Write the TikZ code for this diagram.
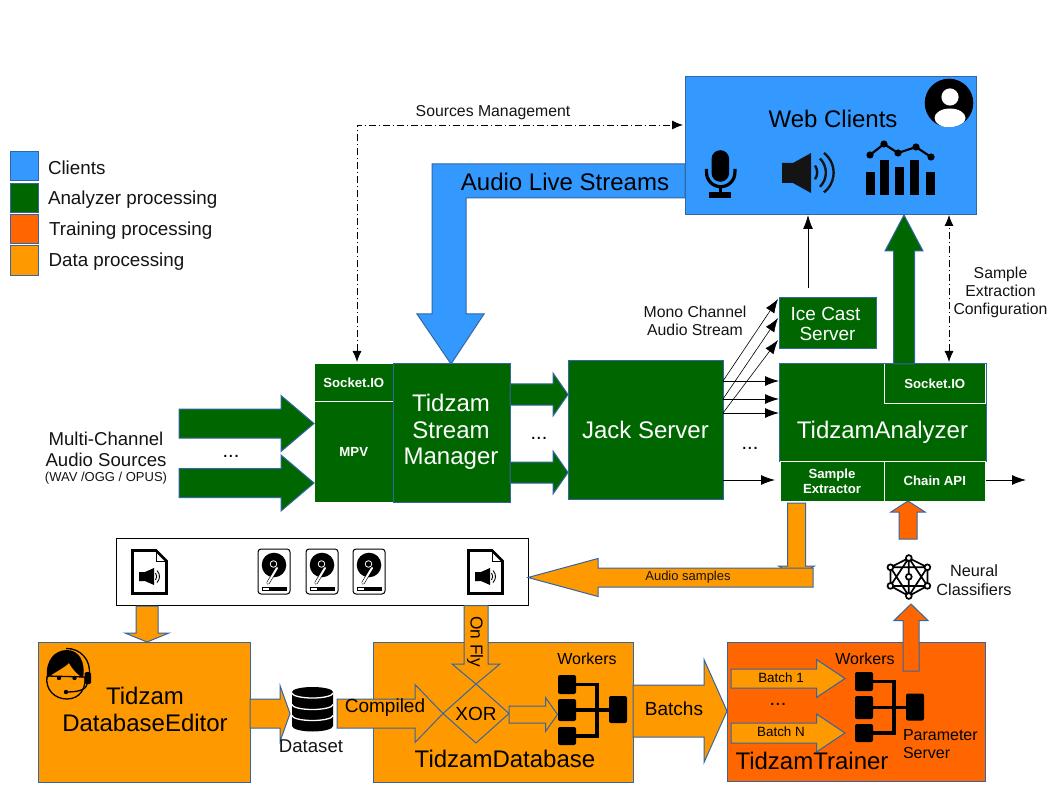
\documentclass[tikz,border=0pt]{standalone}
\usepackage{fontspec}
\setmainfont{Liberation Sans}
\usetikzlibrary{calc,arrows.meta}
\definecolor{cblue}{HTML}{3399FF}
\definecolor{cgreen}{HTML}{006600}
\definecolor{corange}{HTML}{FF9900}
\definecolor{cred}{HTML}{FF6600}
\definecolor{cedge}{HTML}{3465A4}
\newcommand{\fs}[2]{\fontsize{#1}{#2}\selectfont}
\tikzset{
  every node/.style={inner sep=0pt,outer sep=0pt},
  pxbox/.style={draw=cedge,line width=1pt,anchor=center},
  subbox/.style={draw=white,line width=1pt,anchor=center,fill=cgreen,text=white,align=center},
  boldsm/.style={font=\fs{13.2}{15}\bfseries},
  big/.style={font=\fs{24}{26.6},align=center},
  mid/.style={font=\fs{16}{18},align=center,text=black!92},
  legtxt/.style={anchor=base west,font=\fs{18.8}{20},text=black!92},
  dotstxt/.style={anchor=base,font=\fs{20}{22}},
  thinarrow/.style={line width=.9pt,-{Latex[length=14pt,width=10pt]}},
  fan/.style={line width=.6pt,-{Latex[length=14pt,width=10pt]}},
  dd/.style={line width=.8pt,dash pattern=on 7pt off 3pt on 1pt off 3pt,{Latex[length=11pt,width=9pt]}-{Latex[length=11pt,width=9pt]}},
  blockst/.style={draw=cedge,line width=1pt,line join=miter},
}
\newcommand{\pxb}[7]{%
  \pgfmathsetmacro{\cxx}{(#2+#4)/2}\pgfmathsetmacro{\cyy}{(#3+#5)/2}%
  \pgfmathsetmacro{\ww}{abs(#4-#2)}\pgfmathsetmacro{\hh}{abs(#5-#3)}%
  \node[minimum width=\ww pt,minimum height=\hh pt,#6] (#1) at (\cxx,\cyy) {#7};}
\newcommand{\blockarrow}[6]{%
  \coordinate (BAa) at (#2); \coordinate (BAb) at (#3);
  \coordinate (BAh) at ($(BAb)!#4pt!(BAa)$);
  \draw[blockst,fill=#1] ($(BAa)!#5pt!90:(BAb)$) -- ($(BAh)!#5pt!90:(BAb)$) -- ($(BAh)!#6pt!90:(BAb)$)
   -- (BAb) -- ($(BAh)!#6pt!-90:(BAb)$) -- ($(BAh)!#5pt!-90:(BAb)$) -- ($(BAa)!#5pt!-90:(BAb)$) -- cycle;}
\newcommand{\spk}[2]{%
  \begin{scope}[shift={(#1,#2)}]
    \fill (-13,-4.5) -- (-7,-4.5) -- (2,-8.5) -- (2,8.5) -- (-7,4.5) -- (-13,4.5) -- cycle;
    \draw[line width=.9pt] (3.5,-3.5) arc[start angle=-40,end angle=40,radius=5.4];
    \draw[line width=.9pt] (5,-6) arc[start angle=-45,end angle=45,radius=8.5];
  \end{scope}}
\newcommand{\fileicon}[3]{%
  \node[minimum width=37pt,minimum height=46pt] (#1) at ({#2+18.5},{#3+23}) {};
  \draw[line width=2.8pt,fill=white,line join=miter] (#2+1.5,#3+1.5) -- (#2+25,#3+1.5) -- (#2+35.5,#3+12) -- (#2+35.5,#3+44.5) -- (#2+1.5,#3+44.5) -- cycle;
  \draw[line width=.8pt] (#2+25,#3+1) -- (#2+25,#3+12) -- (#2+36,#3+12);
  \spk{#2+21}{#3+27.5}}
\newcommand{\hddicon}[3]{%
  \node[minimum width=32pt,minimum height=45pt] (#1) at ({#2+16},{#3+22.5}) {};
  \draw[line width=1pt,fill=white,rounded corners=3pt] (#2,#3) rectangle (#2+32,#3+45);
  \fill (#2+16,#3+16) circle (12.3);
  \draw[white,line width=.8pt] (#2+15.5,#3+15) circle (3.3);
  \draw[black,line width=3.2pt,line cap=round] (#2+19,#3+19) -- (#2+10,#3+34);
  \draw[white,line width=2pt,line cap=round] (#2+19,#3+19) -- (#2+10,#3+34);
  \fill[black] (#2+11,#3+38.5) rectangle (#2+28,#3+41);
  \draw[black,line width=.5pt] (#2+4,#3+38.5) rectangle (#2+28,#3+41);
}
\begin{document}
\begin{tikzpicture}[x=1pt,y=-1pt]
\useasboundingbox (0,0) rectangle (1058,794);
\fill[white] (0,0) rectangle (1058,794);

% legend
\pxb{lega}{10}{152}{38}{181}{pxbox,fill=cblue}{}
\pxb{legb}{10}{184}{38}{213}{pxbox,fill=cgreen}{}
\pxb{legc}{10}{215}{38}{244}{pxbox,fill=cred}{}
\pxb{legd}{10}{246}{38}{276}{pxbox,fill=corange}{}
\node[legtxt] (tlega) at (48,175) {Clients};
\node[legtxt] (tlegb) at (48,205) {Analyzer processing};
\node[legtxt] (tlegc) at (49,236) {Training processing};
\node[legtxt] (tlegd) at (48.5,267) {Data processing};

% web clients
\pxb{web}{685}{77}{976}{215}{pxbox,fill=cblue}{}
\node[font=\fs{24}{27}] (tweb) at (833,118.5) {Web Clients};
\fill (949,103) circle (24.3);
\begin{scope}
  \clip (949,103) circle (24.3);
  \fill[white] (950,97) circle (8.6);
  \fill[white] (950,118) ellipse (15.5 and 9.5);
\end{scope}
% mic
\fill (711.5,159) arc[start angle=180,end angle=360,radius=8.8] -- (729.1,173) arc[start angle=0,end angle=180,radius=8.8] -- cycle;
\draw[line width=3.2pt] (706.5,169) -- (706.5,172.5) arc[start angle=180,end angle=0,radius=14.2] -- (734.9,169);
\draw[line width=3pt] (720.7,187) -- (720.7,195);
\fill (709,192.5) rectangle (731,198.5);
% speaker
\fill[black!92] (782,163) -- (793,163) -- (811,153) -- (811,193) -- (793,183) -- (782,183) -- cycle;
\draw[black!92,line width=2.4pt] (815,165.5) arc[start angle=-35,end angle=35,radius=12];
\draw[black!92,line width=2.4pt] (820,158.5) arc[start angle=-45,end angle=45,radius=20];
\draw[black!92,line width=2.4pt] (824,153) arc[start angle=-52,end angle=52,radius=25];
% chart
\fill (866,172) rectangle (875,195);
\fill (880,160) rectangle (889,195);
\fill (895,167) rectangle (904,195);
\fill (910,160) rectangle (919,195);
\fill (926,172) rectangle (935,195);
\draw[line width=2.2pt] (870,155) -- (884,144) -- (898,153) -- (916,147) -- (931,157);
\foreach \px/\py in {870/155,884/144,898/153,916/147,931/157} \fill (\px,\py) circle (3.6);

% audio live streams
\draw[blockst,fill=cblue] (685,164) -- (432,164) -- (432,314) -- (417,314) -- (451,364) -- (484,314) -- (466,314) -- (466,198) -- (685,198) -- cycle;
\node[font=\fs{24}{27}] (tals) at (565,181.5) {Audio Live Streams};

% stream manager blocks
\pxb{sock}{314}{364}{393.5}{401.5}{subbox,boldsm}{Socket.IO}
\pxb{mpv}{314}{401.5}{393.5}{502}{subbox,boldsm}{MPV}
\pxb{mgr}{393.5}{364}{510}{502}{pxbox,fill=cgreen}{}
\node[text=white,big] (tmgr) at (451,432) {Tidzam\\Stream\\Manager};
\pxb{jack}{568}{361}{723}{499}{pxbox,fill=cgreen,text=white,big}{Jack Server}
\pxb{ice}{779}{298}{876}{349}{pxbox,fill=cgreen,text=white,font=\fs{19}{20},align=center}{Ice Cast\hspace*{4pt}\\Server}

% analyzer
\pxb{ana}{779}{364}{986}{461.5}{pxbox,fill=cgreen}{}
\node[font=\fs{24}{27},text=white] (tana) at (882.5,432.5) {TidzamAnalyzer};
\pxb{asock}{884}{364}{985.5}{403}{subbox,boldsm}{Socket.IO}
\draw[cedge,line width=1pt] (884,364) -- (986,364);
\pxb{samp}{780}{461.5}{884}{501}{subbox,boldsm}{Sample\\Extractor}
\pxb{chain}{884}{461.5}{985.5}{501}{subbox,boldsm}{Chain API}

% inputs
\coordinate (in1) at (179,423.5); \coordinate (in2) at (179,483);
\blockarrow{cgreen}{in1}{mpv.west |- in1}{33}{14.5}{28}
\blockarrow{cgreen}{in2}{mpv.west |- in2}{33}{14.5}{28}
\node[font=\fs{18.6}{21},align=center,text=black!92] (tsrc) at (106,449) {Multi-Channel\\Audio Sources};
\node[font=\fs{13}{14},text=black!92] (tsrc2) at (106,478) {(WAV /OGG / OPUS)};
\node[dotstxt] (dots1) at (231,457) {...};

% manager to jack
\coordinate (m1) at (510,394.5); \coordinate (m2) at (510,472.5);
\blockarrow{cgreen}{m1}{jack.west |- m1}{15}{10.5}{21.5}
\blockarrow{cgreen}{m2}{jack.west |- m2}{15}{10.5}{21.5}
\node[dotstxt] (dots2) at (539,439) {...};

% jack outputs
\coordinate (j1) at (723,381); \coordinate (j2) at (723,399); \coordinate (j3) at (723,413); \coordinate (j4) at (723,480);
\coordinate (i1) at (778,299); \coordinate (i2) at (778,318); \coordinate (i3) at (778,340);
\draw[fan] (j1) -- (i1);
\draw[fan] (j2) -- (i2);
\draw[fan] (j3) -- (i3);
\draw[thinarrow] (j1) -- (ana.west |- j1);
\draw[thinarrow] (j2) -- (ana.west |- j2);
\draw[thinarrow] (j3) -- (ana.west |- j3);
\coordinate (s4) at (775,480);
\draw[thinarrow] (j4) -- (s4);
\coordinate (outc) at (1026,480);
\draw[thinarrow] (chain.east |- outc) -- (outc);
\node[dotstxt] (dots3) at (750,449) {...};
\node[mid,font=\fs{15.8}{18}] (tmono) at (695,321) {Mono Channel\\Audio Stream};

% ice to web
\coordinate (icetop) at (808,288);
\draw[thinarrow] (icetop) -- (web.south -| icetop);

% analyzer to web
\coordinate (g1) at (904,364);
\blockarrow{cgreen}{g1}{web.south -| g1}{36}{10.5}{19}

% sample extraction conf
\coordinate (d1) at (949,362);
\draw[dd] (d1) -- (web.south -| d1);
\node[mid,font=\fs{15.8}{18}] (tsec) at (1000.5,292) {Sample\\Extraction\\Configuration};

% sources management
\coordinate (cn) at (357,125); \coordinate (d3) at (683,125); \coordinate (d2) at (357,362);
\draw[dd] (d2) -- (cn) -- (d3);
\node[font=\fs{15.8}{18},text=black!92] (tsrcm) at (493,112.5) {Sources Management};

% storage
\pxb{store}{116}{538}{528}{605.5}{draw=black,line width=1pt,fill=white}{}
\fileicon{f1}{131}{549}
\fileicon{f2}{467}{549}
\hddicon{h1}{258}{549}
\hddicon{h2}{306}{549}
\hddicon{h3}{353}{549}

% main bottom boxes
\pxb{edit}{38}{642}{250}{782}{pxbox,fill=corange}{}
\pxb{db}{373}{642}{633}{782}{pxbox,fill=corange}{}
\pxb{train}{727}{642}{985}{781}{pxbox,fill=cred}{}

% samples arrow
\coordinate (av) at (796.5,503); \coordinate (avb) at (796.5,577);
\blockarrow{corange}{av}{avb}{11}{9}{18}
\coordinate (as) at (813,577.5);
\blockarrow{corange}{as}{store.east |- as}{70}{9.5}{19}
\node[font=\fs{13}{15},text=black!92] (tas) at (688,577) {Audio samples};

% store to editor
\coordinate (e1) at (147,606);
\blockarrow{corange}{e1}{edit.north -| e1}{9}{11}{22}

% editor text and headset
\node[big] (tedit) at (145,709.5) {Tidzam\\DatabaseEditor};
\draw[line width=1.3pt,fill=corange] (47,676) .. controls (45,690) and (55,699) .. (67,699) .. controls (80,699) and (86,688) .. (85,677) -- (47,676);
\fill (47,678) .. controls (45,660) and (55,650) .. (67,650) .. controls (79,650) and (86,662) .. (83,678) .. controls (78,675) and (73,670) .. (69,663) .. controls (64,668) and (55,672) .. (47,678) -- cycle;
\draw[line width=1.3pt] (66,648.5) .. controls (80,648) and (92,660) .. (89,676);
\fill[rounded corners=1.5pt] (84.5,672) rectangle (91,684);
\draw[line width=1.3pt] (87,684) .. controls (86,691) and (75,692) .. (66,692);
\fill (66,692) circle (2.2);
\fill (59,678) circle (2.2);
\fill (74.5,678) circle (2.2);

% dataset
\coordinate (ds) at (250,713.5); \coordinate (dt) at (290,713.5);
\blockarrow{corange}{ds}{dt}{10}{14.5}{28}
\node[minimum width=41pt,minimum height=44pt] (dset) at (312.5,709) {};
\fill (292,692) arc[start angle=180,end angle=360,x radius=20.5,y radius=5] -- (333,726) arc[start angle=0,end angle=180,x radius=20.5,y radius=5.5] -- cycle;
\draw[white,line width=1.3pt] (292,693) arc[start angle=180,end angle=0,x radius=20.5,y radius=5];
\draw[white,line width=1.3pt] (292,704.5) arc[start angle=180,end angle=0,x radius=20.5,y radius=5];
\draw[white,line width=1.3pt] (292,715.5) arc[start angle=180,end angle=0,x radius=20.5,y radius=5];
\node[font=\fs{18.6}{19},text=black!92] (tds) at (311,746) {Dataset};

% XOR
\coordinate (xorc) at (476,713.5);
\draw[blockst] (443,713.5) -- (476,684) -- (509,713.5) -- (476,743) -- cycle;
\node[font=\fs{19}{19}] (txor) at (476,713.5) {XOR};

% compiled
\coordinate (c1) at (337,713.5); \coordinate (c2) at (443,713.5);
\blockarrow{corange}{c1}{c2}{28}{14.5}{29}
\node[font=\fs{19}{19}] (tcomp) at (385,708) {Compiled};

% on fly
\coordinate (o1) at (476,605.5); \coordinate (o2) at (476,684);
\blockarrow{corange}{o1}{o2}{20}{12}{24}
\node[rotate=-90,font=\fs{17.3}{18}] (tonf) at (475,642) {On Fly};

% xor to workers
\coordinate (xo) at (509,714.5); \coordinate (wl) at (557.5,714.5);
\blockarrow{corange}{xo}{wl}{12}{8.5}{17}

% workers A
\node[font=\fs{16}{18}] (twa) at (587,659) {Workers};
\node[minimum width=18pt,minimum height=19pt,fill=black,rounded corners=2pt] (wa1) at (567,684.5) {};
\node[minimum width=18pt,minimum height=22pt,fill=black,rounded corners=2pt] (wa2) at (567,710) {};
\node[minimum width=18pt,minimum height=18pt,fill=black,rounded corners=2pt] (wa3) at (567,736) {};
\node[minimum width=18pt,minimum height=27pt,fill=black,rounded corners=2pt] (wa4) at (618,709.5) {};
\coordinate (wav) at (597,700);
\draw[line width=3.4pt,line join=miter] (wa1.east) -- (wa1.east -| wav) -- (wa3.east -| wav) -- (wa3.east);
\draw[line width=3.4pt] (wa2.east) -- (wa4.west |- wa2.east);
\node[big] (tdb) at (505,758.5) {TidzamDatabase};

% batchs
\coordinate (b1) at (633,711);
\blockarrow{corange}{b1}{train.west |- b1}{23}{26}{51.5}
\node[font=\fs{19}{21}] (tba) at (674,709) {Batchs};

% batch arrows
\coordinate (b2) at (731,678.5); \coordinate (b2e) at (845,678.5);
\coordinate (b3) at (731,733); \coordinate (b3e) at (845,733);
\blockarrow{corange}{b2}{b2e}{28.5}{9.5}{19}
\blockarrow{corange}{b3}{b3e}{28.5}{10}{19}
\node[font=\fs{13.4}{15}] (tb1) at (781,678) {Batch 1};
\node[font=\fs{13.4}{15}] (tb2) at (781,732) {Batch N};
\node[dotstxt] (dots4) at (778,705.5) {...};

% up arrow from trainer
\coordinate (u1) at (911,671); \coordinate (u2) at (911,604);
\blockarrow{cred}{u1}{u2}{16.5}{8}{17}

% workers B
\node[font=\fs{16}{18}] (twb) at (865,659) {Workers};
\node[minimum width=18pt,minimum height=19pt,fill=black,rounded corners=2pt] (wb1) at (864,681.5) {};
\node[minimum width=18pt,minimum height=23pt,fill=black,rounded corners=2pt] (wb2) at (864,707.5) {};
\node[minimum width=18pt,minimum height=18pt,fill=black,rounded corners=2pt] (wb3) at (864,733) {};
\node[minimum width=18pt,minimum height=27pt,fill=black,rounded corners=2pt] (wb4) at (915,707) {};
\coordinate (wbv) at (894,700);
\draw[line width=3.4pt,line join=miter] (wb1.east) -- (wb1.east -| wbv) -- (wb3.east -| wbv) -- (wb3.east);
\draw[line width=3.4pt] (wb2.east) -- (wb4.west |- wb2.east);
\node[font=\fs{16}{18},align=left,anchor=west] (tps) at (903,744.5) {Parameter\\Server};
\node[big,anchor=center] (ttr) at (812,760.5) {TidzamTrainer};

% neural icon
\coordinate (n0) at (908.8,576.8);
\coordinate (n1) at (908.8,558); \coordinate (n2) at (927.4,567.3); \coordinate (n3) at (927.4,585.9);
\coordinate (n4) at (908.8,596); \coordinate (n5) at (890.4,585.9); \coordinate (n6) at (890.4,567.3);
\draw[line width=1.7pt] (n1)--(n2)--(n3)--(n4)--(n5)--(n6)--cycle (n1)--(n3)--(n5)--cycle (n2)--(n4)--(n6)--cycle (n1)--(n0)--(n4);
\foreach \n in {n1,n2,n3,n4,n5,n6,n0} \draw[line width=1.7pt,fill=white] (\n) circle (2.9);
\node[mid,font=\fs{16.3}{18.5}] (tnn) at (974,580) {Neural\\Classifiers};

% classifier to chain
\coordinate (u3) at (908,539);
\blockarrow{cred}{u3}{chain.south -| u3}{11}{9}{17}
\end{tikzpicture}
\end{document}
